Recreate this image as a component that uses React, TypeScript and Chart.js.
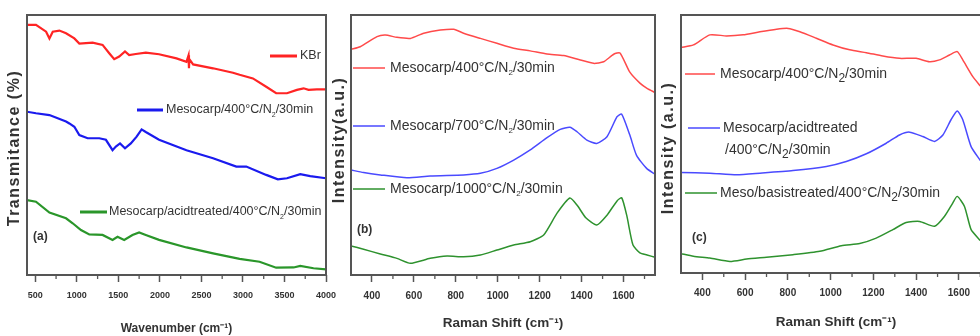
import React, { useEffect, useRef } from "react";
import { Chart, registerables } from "chart.js";

Chart.register(...registerables);

// ---------- Panel (a): FTIR ----------
const kbrX = [400, 508, 630, 670, 710, 790, 870, 970, 1030, 1190, 1310, 1390, 1450, 1510, 1580, 1630, 1710, 1830, 1990, 2200, 2320, 2345, 2350, 2355, 2400, 2640, 2880, 2960, 3120, 3280, 3400, 3530, 3650, 3730, 3790, 3890, 4000];
const kbrY = [96.2, 96.2, 93.6, 91, 93.6, 94, 93, 91, 89, 89.4, 88.5, 85.3, 83, 84, 86, 84.6, 85, 85.5, 84.9, 83.3, 82, 84.5, 79.5, 83, 81, 79.5, 77.8, 77, 75.6, 72.4, 69.9, 69.9, 71.2, 71.8, 71.2, 71.4, 71.4];
const meso400X = [400, 508, 670, 870, 910, 970, 1030, 1130, 1270, 1350, 1430, 1470, 1520, 1580, 1650, 1720, 1780, 1830, 1990, 2320, 2640, 2920, 3040, 3280, 3420, 3530, 3690, 3810, 4000];
const meso400Y = [62.8, 62.2, 61.5, 59, 58.3, 57, 53.8, 52.6, 52.6, 52, 48, 49.4, 50.6, 48.7, 50.6, 53.2, 56, 55, 52, 48, 44.9, 41.7, 41.7, 38.5, 36.8, 37.2, 38.8, 38, 37.2];
const acidX = [400, 508, 670, 870, 950, 1050, 1150, 1310, 1430, 1490, 1570, 1670, 1750, 1830, 1990, 2320, 2640, 2960, 3200, 3400, 3610, 3690, 3850, 4000];
const acidY = [28.8, 28.2, 24, 21.8, 19.9, 17.3, 15.6, 15.4, 13.5, 14.7, 13.5, 15.4, 16.4, 15.4, 13.5, 10.6, 8.3, 6.2, 5.1, 2.8, 2.9, 3.5, 2.6, 2.2];
const ftirMajorTicks = [500, 1000, 1500, 2000, 2500, 3000, 3500, 4000];
const ftirMinorTicks = [750, 1250, 1750, 2250, 2750, 3250, 3750];

// ---------- Panel (b): Raman, temperatures ----------
const b400X = [300, 344, 424, 464, 519, 583, 647, 726, 790, 837, 917, 996, 1076, 1155, 1235, 1314, 1394, 1457, 1505, 1553, 1583, 1630, 1678, 1712, 1750];
const b400Y = [86.8, 87.8, 91.7, 92.3, 91.4, 91, 93, 94.2, 94.5, 93, 91, 89.1, 87.2, 86.2, 85, 84.4, 82.7, 81.4, 82, 84.9, 85.4, 78, 73.8, 71.8, 70.2];
const b700X = [300, 360, 440, 567, 678, 837, 917, 996, 1076, 1155, 1235, 1298, 1344, 1378, 1425, 1472, 1521, 1569, 1591, 1630, 1662, 1710, 1750];
const b700Y = [40.4, 39.4, 38.5, 37.4, 38.1, 38.5, 39.1, 41, 44.2, 48.1, 52.8, 56, 56.8, 55.1, 51.9, 50.6, 53.2, 60.9, 61.9, 53.8, 46, 41, 38.8];
const b1000X = [300, 360, 440, 519, 583, 678, 758, 837, 917, 996, 1076, 1155, 1219, 1282, 1344, 1378, 1420, 1472, 1521, 1569, 1591, 1615, 1645, 1678, 1712, 1750];
const b1000Y = [11.2, 9.9, 8.1, 6.4, 4.5, 6.4, 7.3, 7, 7.7, 9.6, 11.5, 12.8, 15.4, 23.7, 29.6, 26.9, 22, 19.2, 23, 28.5, 29.7, 23, 11.5, 8.5, 7.7, 6.8];

// ---------- Panel (c): Raman, treatments ----------
const c400X = [300, 358, 435, 513, 591, 669, 747, 801, 856, 933, 1011, 1089, 1167, 1244, 1322, 1400, 1462, 1509, 1556, 1592, 1618, 1665, 1700];
const c400Y = [87.4, 88.4, 92.3, 91.9, 92.3, 93.5, 94.5, 94.8, 93.5, 91, 88.4, 86.5, 85.4, 84.1, 83.2, 83.2, 81.9, 82.6, 84.5, 85.8, 82.6, 76.1, 72.5];
const cAcidX = [300, 435, 560, 669, 824, 980, 1073, 1167, 1260, 1322, 1369, 1431, 1486, 1525, 1563, 1592, 1618, 1657, 1700];
const cAcidY = [39, 38.7, 38.1, 38.7, 39.7, 41.3, 43.2, 46.2, 50.3, 53.5, 54.6, 52.9, 51, 53.5, 59.4, 62.8, 59.4, 49, 43.6];
const cBaseX = [300, 358, 435, 529, 607, 700, 824, 949, 1050, 1136, 1213, 1291, 1353, 1416, 1486, 1532, 1571, 1592, 1626, 1657, 1700];
const cBaseY = [7.5, 6.5, 5.8, 4.5, 5.4, 6.1, 7.1, 8.4, 10.6, 11.4, 13.5, 16.8, 19.6, 20, 18.1, 21.9, 27.1, 29.7, 25.8, 16.8, 12.6];
const ramanMajorTicks = [400, 600, 800, 1000, 1200, 1400, 1600];
const ramanMinorTicks = [500, 700, 900, 1100, 1300, 1500, 1700];

const FONT = '"Liberation Sans", Arial, sans-serif';
const AXIS = "#555555";
const TXT = "#333333";

const pts = (xs: number[], ys: number[]) => xs.map((x, i) => ({ x, y: ys[i] }));

type Legend = { text: string; color: string; x0: number; x1: number; y: number; tx: number; noLine?: boolean };
type PanelCfg = {
  left: number; w: number; padRight: number; yW: number; xH: number;
  xMin: number; xMax: number; major: number[]; minor: number[];
  xTitle: string; xTitleSize: number; xTitlePad: number; tickSize: number; tickPad: number;
  yTitle: string; yTitleSize: number; yTitleX: number; yTitleY: number;
  series: { data: { x: number; y: number }[]; color: string; width: number; tension: number }[];
  legends: Legend[]; legFont: number; subFont: number; subDy: number; legLine: number;
  tag: string; tagX: number; tagY: number;
};

function drawRich(ctx: CanvasRenderingContext2D, text: string, x: number, y: number, size: number, subSize: number, subDy: number) {
  const parts = text.split(/(_\d)/);
  let cx = x;
  for (const p of parts) {
    if (!p) continue;
    if (p.startsWith("_")) {
      ctx.font = `${subSize}px ${FONT}`;
      ctx.fillText(p.slice(1), cx, y + subDy);
      cx += ctx.measureText(p.slice(1)).width;
    } else {
      ctx.font = `${size}px ${FONT}`;
      ctx.fillText(p, cx, y);
      cx += ctx.measureText(p).width;
    }
  }
}

function makeDecor(cfg: PanelCfg) {
  return {
    id: "decor",
    afterDraw(chart: any) {
      const { ctx, chartArea: a } = chart;
      const xs = chart.scales.x;
      ctx.save();
      ctx.strokeStyle = AXIS;
      ctx.lineWidth = 1.3;
      for (const v of cfg.minor) {
        const px = xs.getPixelForValue(v);
        ctx.beginPath();
        ctx.moveTo(px, a.bottom);
        ctx.lineTo(px, a.bottom + 4);
        ctx.stroke();
      }
      ctx.lineWidth = 2;
      ctx.strokeRect(a.left, a.top, a.right - a.left, a.bottom - a.top);
      ctx.textBaseline = "middle";
      ctx.textAlign = "left";
      for (const l of cfg.legends) {
        if (!l.noLine) {
          ctx.strokeStyle = l.color;
          ctx.lineWidth = cfg.legLine;
          ctx.beginPath();
          ctx.moveTo(l.x0, l.y);
          ctx.lineTo(l.x1, l.y);
          ctx.stroke();
        }
        ctx.fillStyle = TXT;
        drawRich(ctx, l.text, l.tx, l.y, cfg.legFont, cfg.subFont, cfg.subDy);
      }
      ctx.fillStyle = TXT;
      ctx.font = `bold 12px ${FONT}`;
      ctx.fillText(cfg.tag, cfg.tagX, cfg.tagY);
      // y-axis title, letter-spaced like the reference
      ctx.save();
      ctx.translate(cfg.yTitleX, cfg.yTitleY);
      ctx.rotate(-Math.PI / 2);
      ctx.font = `bold ${cfg.yTitleSize}px ${FONT}`;
      (ctx as any).letterSpacing = "1.5px";
      ctx.textAlign = "center";
      ctx.fillText(cfg.yTitle, 0, 0);
      ctx.restore();
      ctx.restore();
    },
  };
}

function Panel({ cfg }: { cfg: PanelCfg }) {
  const ref = useRef<HTMLCanvasElement>(null);
  useEffect(() => {
    const chart = new Chart(ref.current as HTMLCanvasElement, {
      type: "line",
      data: {
        datasets: cfg.series.map((s) => ({
          data: s.data,
          borderColor: s.color,
          borderWidth: s.width,
          pointRadius: 0,
          tension: s.tension,
          fill: false,
        })),
      },
      options: {
        animation: false,
        responsive: false,
        devicePixelRatio: 1,
        layout: { padding: { left: 0, top: 15, right: cfg.padRight, bottom: 0 } },
        plugins: { legend: { display: false }, tooltip: { enabled: false } },
        scales: {
          x: {
            type: "linear",
            min: cfg.xMin,
            max: cfg.xMax,
            afterBuildTicks: (s: any) => {
              s.ticks = cfg.major.map((v) => ({ value: v }));
            },
            afterFit: (s: any) => {
              s.height = cfg.xH;
              s.paddingLeft = 0;
              s.paddingRight = 0;
            },
            ticks: {
              autoSkip: false,
              maxRotation: 0,
              padding: cfg.tickPad,
              color: TXT,
              font: { family: FONT, size: cfg.tickSize, weight: "bold" },
              callback: (v: any) => String(v),
            },
            grid: { display: true, drawOnChartArea: false, drawTicks: true, tickLength: 7, tickColor: AXIS, tickWidth: 1.5 },
            border: { display: false },
            title: {
              display: true,
              text: cfg.xTitle,
              color: TXT,
              font: { family: FONT, size: cfg.xTitleSize, weight: "bold" },
              padding: { top: 0, bottom: cfg.xTitlePad },
            },
          },
          y: {
            type: "linear",
            min: 0,
            max: 100,
            ticks: { display: false },
            grid: { display: false },
            border: { display: false },
            afterFit: (s: any) => {
              s.width = cfg.yW;
            },
            title: { display: false },
          },
        },
      },
      plugins: [makeDecor(cfg)],
    } as any);
    return () => chart.destroy();
  }, []);
  return (
    <canvas
      ref={ref}
      width={cfg.w}
      height={336}
      style={{ position: "absolute", left: cfg.left, top: 0, width: cfg.w, height: 336 }}
    />
  );
}

const panelA: PanelCfg = {
  left: 0, w: 345, padRight: 19, yW: 27, xH: 61,
  xMin: 400, xMax: 4000, major: ftirMajorTicks, minor: ftirMinorTicks,
  xTitle: "Wavenumber (cm⁻¹)", xTitleSize: 12, xTitlePad: 0, tickSize: 9, tickPad: 8,
  yTitle: "Transmitance (%)", yTitleSize: 16, yTitleX: 15, yTitleY: 148,
  series: [
    { data: pts(kbrX, kbrY), color: "#ff2424", width: 2.2, tension: 0 },
    { data: pts(meso400X, meso400Y), color: "#1a1aee", width: 2.2, tension: 0 },
    { data: pts(acidX, acidY), color: "#2a962a", width: 2.2, tension: 0 },
  ],
  legends: [
    { text: "KBr", color: "#ff2424", x0: 270, x1: 297, y: 56, tx: 300 },
    { text: "Mesocarp/400°C/N_2/30min", color: "#1a1aee", x0: 137, x1: 163, y: 110, tx: 166 },
    { text: "Mesocarp/acidtreated/400°C/N_2/30min", color: "#2a962a", x0: 80, x1: 107, y: 212, tx: 109 },
  ],
  legFont: 12.5, subFont: 7, subDy: 5, legLine: 3,
  tag: "(a)", tagX: 33, tagY: 237,
};

const panelB: PanelCfg = {
  left: 330, w: 345, padRight: 20, yW: 21, xH: 61,
  xMin: 300, xMax: 1750, major: ramanMajorTicks, minor: ramanMinorTicks,
  xTitle: "Raman Shift (cm⁻¹)", xTitleSize: 13.5, xTitlePad: 5, tickSize: 10, tickPad: 8,
  yTitle: "Intensity(a.u.)", yTitleSize: 16, yTitleX: 10, yTitleY: 140,
  series: [
    { data: pts(b400X, b400Y), color: "#ff4a4a", width: 1.5, tension: 0.2 },
    { data: pts(b700X, b700Y), color: "#4a4aff", width: 1.5, tension: 0.2 },
    { data: pts(b1000X, b1000Y), color: "#2e922e", width: 1.5, tension: 0.2 },
  ],
  legends: [
    { text: "Mesocarp/400°C/N_2/30min", color: "#ff4a4a", x0: 23, x1: 55, y: 68, tx: 60 },
    { text: "Mesocarp/700°C/N_2/30min", color: "#4a4aff", x0: 23, x1: 55, y: 126, tx: 60 },
    { text: "Mesocarp/1000°C/N_2/30min", color: "#2e922e", x0: 23, x1: 55, y: 189, tx: 60 },
  ],
  legFont: 14, subFont: 8, subDy: 5, legLine: 1.5,
  tag: "(b)", tagX: 27, tagY: 230,
};

const panelC: PanelCfg = {
  left: 660, w: 340, padRight: 9, yW: 21, xH: 63,
  xMin: 300, xMax: 1750, major: ramanMajorTicks, minor: ramanMinorTicks,
  xTitle: "Raman Shift (cm⁻¹)", xTitleSize: 13.5, xTitlePad: 6, tickSize: 10, tickPad: 7,
  yTitle: "Intensity (a.u.)", yTitleSize: 16, yTitleX: 9, yTitleY: 148,
  series: [
    { data: pts(c400X, c400Y), color: "#ff4a4a", width: 1.5, tension: 0.2 },
    { data: pts(cAcidX, cAcidY), color: "#4a4aff", width: 1.5, tension: 0.2 },
    { data: pts(cBaseX, cBaseY), color: "#2e922e", width: 1.5, tension: 0.2 },
  ],
  legends: [
    { text: "Mesocarp/400°C/N_2/30min", color: "#ff4a4a", x0: 25, x1: 55, y: 74, tx: 60 },
    { text: "Mesocarp/acidtreated", color: "#4a4aff", x0: 28, x1: 60, y: 128, tx: 63 },
    { text: "/400°C/N_2/30min", color: "#4a4aff", x0: 0, x1: 0, y: 150, tx: 65, noLine: true },
    { text: "Meso/basistreated/400°C/N_2/30min", color: "#2e922e", x0: 25, x1: 57, y: 193, tx: 60 },
  ],
  legFont: 14, subFont: 12, subDy: 5, legLine: 1.5,
  tag: "(c)", tagX: 32, tagY: 238,
};

export default function App() {
  return (
    <div style={{ position: "fixed", left: 0, top: 0, width: 980, height: 336, overflow: "hidden", background: "#ffffff" }}>
      <Panel cfg={panelA} />
      <Panel cfg={panelB} />
      <Panel cfg={panelC} />
    </div>
  );
}
